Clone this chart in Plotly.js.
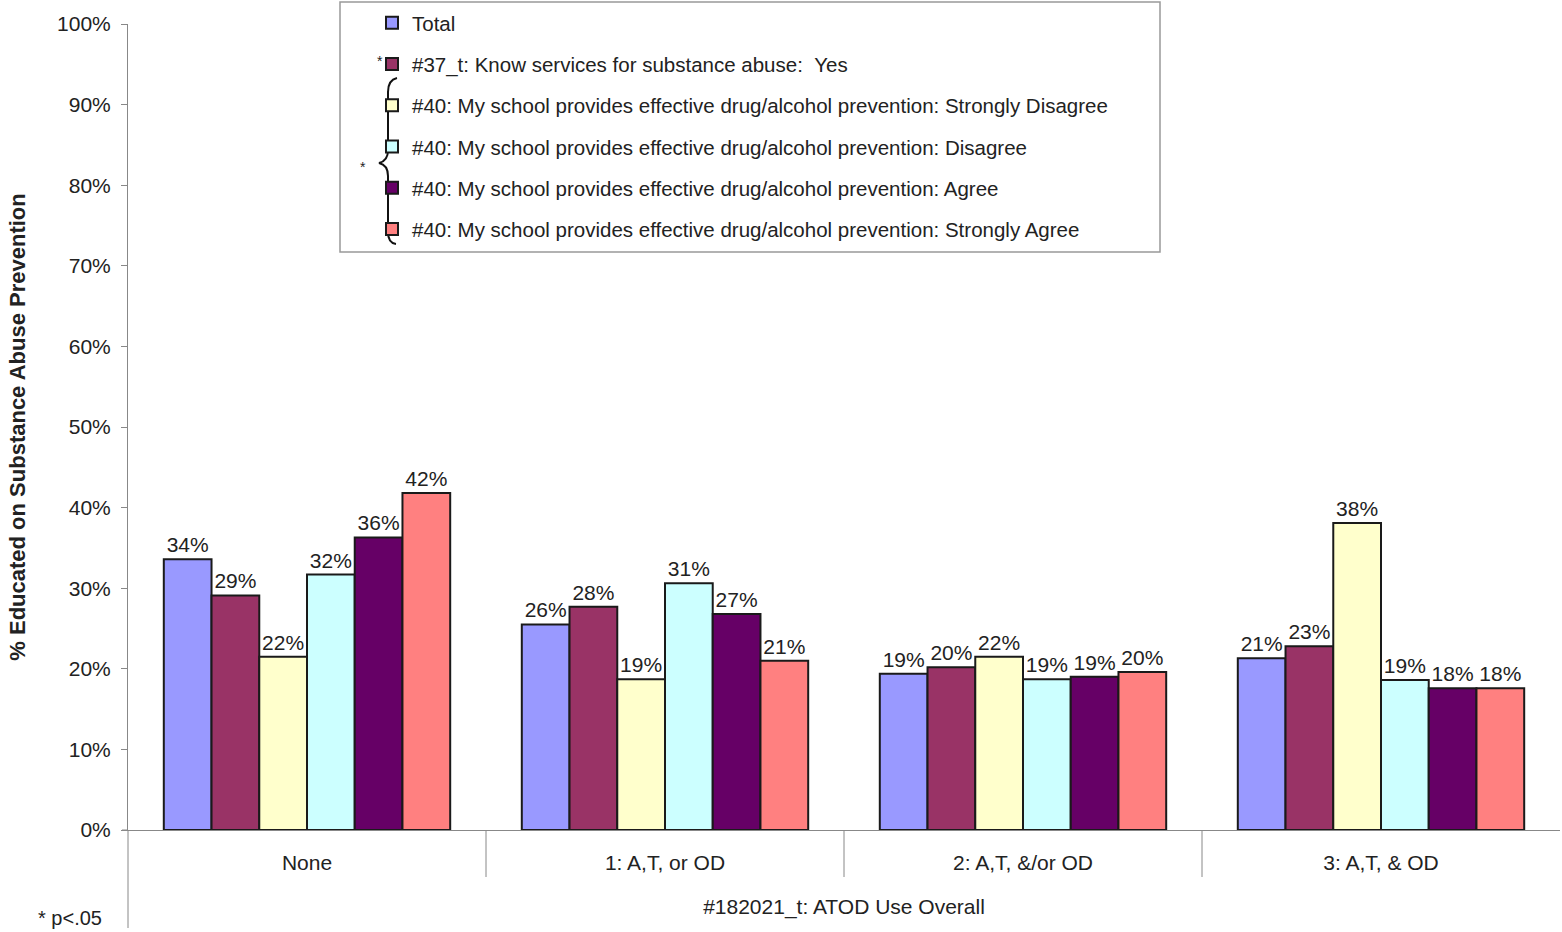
<!DOCTYPE html>
<html><head><meta charset="utf-8">
<script src="https://cdn.plot.ly/plotly-3.0.1.min.js"></script>
<style>html,body{margin:0;padding:0;background:#fff}</style>
</head><body>
<div id="chart" style="width:1562px;height:932px"></div>
<script>
const categories = ["None", "1: A,T, or OD", "2: A,T, &/or OD", "3: A,T, & OD"];
const seriesNames = [
  "Total",
  "#37_t: Know services for substance abuse:\u00a0\u00a0Yes",
  "#40: My school provides effective drug/alcohol prevention: Strongly Disagree",
  "#40: My school provides effective drug/alcohol prevention: Disagree",
  "#40: My school provides effective drug/alcohol prevention: Agree",
  "#40: My school provides effective drug/alcohol prevention: Strongly Agree"
];
const total      = [33.6, 25.5, 19.4, 21.3];
const knowYes    = [29.1, 27.7, 20.2, 22.8];
const strongDis  = [21.5, 18.7, 21.5, 38.1];
const disagree   = [31.7, 30.6, 18.7, 18.6];
const agree      = [36.3, 26.8, 19.0, 17.6];
const strongAgr  = [41.8, 21.0, 19.6, 17.6];
const colors = ["#9999FF", "#993366", "#FFFFCC", "#CCFFFF", "#660066", "#FF8080"];
const seriesValues = [total, knowYes, strongDis, disagree, agree, strongAgr];

const FONT = "Liberation Sans, Arial, sans-serif";
const TXT = "#222";

const traces = seriesValues.map((vals, i) => ({
  type: "bar",
  name: seriesNames[i],
  x: categories,
  y: vals,
  legendgroup: "g" + i,
  marker: {color: colors[i], line: {color: "#1a1a1a", width: 2}},
  text: vals.map(v => Math.round(v) + "%"),
  textposition: "outside",
  textfont: {family: FONT, size: 21, color: TXT},
  cliponaxis: false,
  constraintext: "none",
  hoverinfo: "skip"
}));

// pixel -> paper helpers for decorations
const L = 128, R = 1560, T = 24, B = 830;
const px = x => (x - L) / (R - L);
const py = y => (B - y) / (B - T);

const brace = "M" + px(397) + "," + py(78) +
  " Q" + px(388) + "," + py(80) + " " + px(388) + "," + py(92) +
  " L" + px(388) + "," + py(150) +
  " Q" + px(388) + "," + py(161) + " " + px(379) + "," + py(163) +
  " Q" + px(388) + "," + py(165) + " " + px(388) + "," + py(176) +
  " L" + px(388) + "," + py(232) +
  " Q" + px(388) + "," + py(243) + " " + px(396) + "," + py(244);

const shapes = [
  {type: "rect", xref: "paper", yref: "paper", x0: px(340), x1: px(1160), y0: py(252), y1: py(2),
   line: {color: "#999", width: 1.5}, fillcolor: "rgba(0,0,0,0)"},
  {type: "path", xref: "paper", yref: "paper", path: brace, line: {color: "#111", width: 2}},
  {type: "line", xref: "paper", yref: "paper", x0: 0, x1: 0, y0: 0, y1: py(928), line: {color: "#888", width: 1}},
  {type: "line", xref: "paper", yref: "paper", x0: px(122), x1: 0, y0: 0, y1: 0, line: {color: "#888", width: 1}}
];
[0.5, 1.5, 2.5].forEach(b => shapes.push({type: "line", xref: "x", yref: "paper", x0: b, x1: b,
  y0: 0, y1: py(877), line: {color: "#888", width: 1}}));

const annotations = [
  {xref: "paper", yref: "paper", x: px(380), y: py(61), xanchor: "center", yanchor: "middle", text: "*", showarrow: false,
   font: {family: FONT, size: 14, color: TXT}},
  {xref: "paper", yref: "paper", x: px(363), y: py(167), xanchor: "center", yanchor: "middle", text: "*", showarrow: false,
   font: {family: FONT, size: 14, color: TXT}},
  {xref: "paper", yref: "paper", x: px(36), y: py(918), xanchor: "left", yanchor: "middle", text: "* p<.05", showarrow: false,
   font: {family: FONT, size: 20, color: TXT}}
];

const layout = {
  width: 1562, height: 932,
  margin: {l: L, r: 1562 - R, t: T, b: 932 - B, pad: 0},
  paper_bgcolor: "#fff", plot_bgcolor: "#fff",
  font: {family: FONT, size: 21, color: TXT},
  barmode: "group", bargap: 0.2, bargroupgap: 0,
  showlegend: true,
  legend: {x: px(372), xanchor: "left", y: py(3), yanchor: "top", bgcolor: "rgba(0,0,0,0)",
    borderwidth: 0, tracegroupgap: 11.6, traceorder: "grouped",
    font: {family: FONT, size: 20.5, color: TXT}, itemwidth: 30},
  xaxis: {type: "category", showline: true, linecolor: "#888", linewidth: 1, ticks: "", showgrid: false, zeroline: false,
    tickfont: {family: FONT, size: 21, color: TXT}, ticklabelstandoff: 14,
    title: {text: "#182021_t: ATOD Use Overall", standoff: 26, font: {family: FONT, size: 21, color: TXT}},
    automargin: false},
  yaxis: {range: [0, 100], tickvals: [0,10,20,30,40,50,60,70,80,90,100],
    ticktext: ["0%","10%","20%","30%","40%","50%","60%","70%","80%","90%","100%"],
    showgrid: false, zeroline: false, showline: true, linecolor: "#888", linewidth: 1,
    ticks: "outside", ticklen: 6, tickcolor: "#888",
    ticklabelstandoff: 6, tickfont: {family: FONT, size: 21, color: TXT},
    title: {text: "<b>% Educated on Substance Abuse Prevention</b>", standoff: 25,
      font: {family: FONT, size: 22, color: TXT}}, automargin: false},
  shapes: shapes,
  annotations: annotations
};

Plotly.newPlot("chart", traces, layout, {displayModeBar: false, staticPlot: true});
</script>
</body></html>
